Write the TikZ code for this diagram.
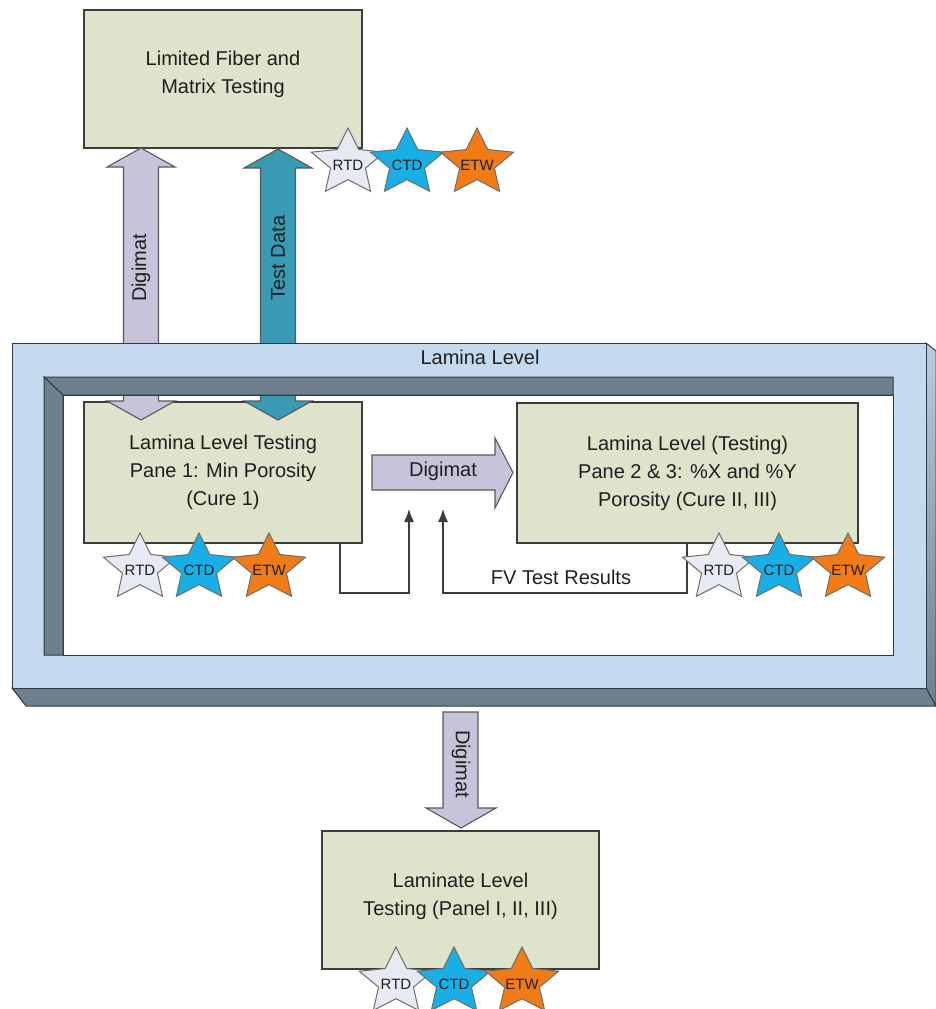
\documentclass[tikz,border=0pt]{standalone}
\usepackage{fontspec}
\setmainfont{Liberation Sans}
\usetikzlibrary{shapes.geometric,calc,arrows.meta}
\definecolor{boxfill}{HTML}{DEE3CB}
\definecolor{edge}{HTML}{3C3C3C}
\definecolor{lav}{HTML}{C8C2DB}
\definecolor{tealarrow}{HTML}{3A9AB4}
\definecolor{frameblue}{HTML}{C6DAEF}
\definecolor{slate}{HTML}{6E7F8D}
\definecolor{frameline}{HTML}{2F3B45}
\definecolor{rtdfill}{HTML}{E8EAF3}
\definecolor{ctdfill}{HTML}{18AEE6}
\definecolor{etwfill}{HTML}{F07B17}
\tikzset{
  box/.style={draw=edge, line width=1.3pt, fill=boxfill, inner sep=0pt},
  boxtext/.style={align=center, font=\fontsize{20}{28}\selectfont, text=black!88, inner sep=0pt},
  starnode/.style={star, star points=5, star point ratio=2.1, minimum size=70pt, xscale=1.1, inner sep=0pt, draw=edge!75, line width=1pt},
  startext/.style={font=\fontsize{15}{16}\selectfont, inner sep=0pt, text=black!88},
  blockarrow/.style={draw=edge!85, line width=1.1pt},
  conn/.style={draw=edge, line width=1.1pt, -{Latex[length=13pt,width=10pt]}},
  lbl/.style={font=\fontsize{20}{24}\selectfont, inner sep=0pt, text=black!88},
}
\begin{document}
\begin{tikzpicture}[x=1pt,y=-1pt]
\useasboundingbox (0,0) rectangle (936,1009);

% ---------- boxes ----------
\node[box, minimum width=278pt, minimum height=138pt] (fiber) at (223,79) {};
\node[boxtext] at ($(fiber.center)+(0,-5)$) {Limited Fiber and\\Matrix Testing};

\node[box, minimum width=278pt, minimum height=141pt] (lam1) at (223,472.5) {};
\node[boxtext] at (lam1.center) {Lamina Level Testing\\Pane 1: Min Porosity\\(Cure 1)};

\node[box, minimum width=341pt, minimum height=140pt] (lam2) at (687.5,473) {};
\node[boxtext] at (lam2.center) {Lamina Level (Testing)\\Pane 2 \& 3: \%X and \%Y\\Porosity (Cure II, III)};

\node[box, minimum width=277pt, minimum height=138pt] (laminate) at (460.5,900) {};
\node[boxtext] at ($(laminate.center)+(0,-4)$) {Laminate Level\\Testing (Panel I, II, III)};

% ---------- vertical double arrows (behind frame) ----------
\draw[blockarrow, fill=lav]
  (141,148) -- (175,167) -- (158.5,167) -- (158.5,401) -- (175,401) -- (141,420)
  -- (107,401) -- (123.5,401) -- (123.5,167) -- (107,167) -- cycle;
\node[lbl, rotate=90] (dig1) at (141,268) {Digimat};

\draw[blockarrow, fill=tealarrow]
  (278,149) -- (312,168) -- (295.5,168) -- (295.5,401) -- (312,401) -- (278,420)
  -- (244,401) -- (260.5,401) -- (260.5,168) -- (244,168) -- cycle;
\node[lbl, rotate=90] (td) at (278,258) {Test Data};

% ---------- frame ----------
\shade[top color=frameblue!85!slate, bottom color=slate, draw=frameline, line width=1pt]
  (926,343) -- (936,351) -- (936,706) -- (926,688) -- cycle;
\fill[slate, draw=frameline, line width=1pt]
  (12,688) -- (926,688) -- (936,706) -- (26,706) -- cycle;
\fill[frameblue, even odd rule, draw=frameline, line width=1pt]
  (12,343) rectangle (926,688) (63,395) rectangle (893,655);
\fill[slate, draw=frameline, line width=1pt]
  (44,377) -- (893,377) -- (893,395) -- (63,395) -- cycle;
\fill[slate, draw=frameline, line width=1pt]
  (44,377) -- (63,395) -- (63,655) -- (44,655) -- cycle;
\draw[frameline, line width=1pt] (63,395) rectangle (893,655);
\node[lbl] (lamlevel) at (480,357) {Lamina Level};

% ---------- horizontal Digimat arrow ----------
\draw[blockarrow, fill=lav]
  (372,455) -- (495,455) -- (495,438) -- (513,472.5) -- (495,508) -- (495,490) -- (372,490) -- cycle;
\node[lbl] (dig2) at (443,471) {Digimat};

% ---------- feedback connectors ----------
\coordinate (j1) at (340,593);
\coordinate (t1) at (409,509);
\draw[conn] (lam1.south -| j1) -- (j1) -| (t1);
\coordinate (j2) at (687,593);
\coordinate (t2) at (443,509);
\draw[conn] (lam2.south -| j2) -- (j2) -| (t2);
\node[lbl] (fv) at (561,577) {FV Test Results};

% ---------- bottom Digimat arrow ----------
\draw[blockarrow, fill=lav]
  (443,712) -- (478,712) -- (478,808) -- (496,808) -- (461,828) -- (426,808) -- (443,808) -- cycle;
\node[lbl, rotate=-90] (dig3) at (461,764) {Digimat};

% ---------- stars ----------
\node[starnode, fill=rtdfill] (s1a) at (348,163) {};
\node[starnode, fill=ctdfill] (s1b) at (407,163) {};
\node[starnode, fill=etwfill] (s1c) at (477,163) {};
\node[startext] at ($(s1a.center)+(0,2)$) {RTD};
\node[startext] at ($(s1b.center)+(0,2)$) {CTD};
\node[startext] at ($(s1c.center)+(0,2)$) {ETW};

\node[starnode, fill=rtdfill] (s2a) at (140,568) {};
\node[starnode, fill=ctdfill] (s2b) at (199,568) {};
\node[starnode, fill=etwfill] (s2c) at (269,568) {};
\node[startext] at ($(s2a.center)+(0,2)$) {RTD};
\node[startext] at ($(s2b.center)+(0,2)$) {CTD};
\node[startext] at ($(s2c.center)+(0,2)$) {ETW};

\node[starnode, fill=rtdfill] (s3a) at (719,568) {};
\node[starnode, fill=ctdfill] (s3b) at (779,568) {};
\node[starnode, fill=etwfill] (s3c) at (848,568) {};
\node[startext] at ($(s3a.center)+(0,2)$) {RTD};
\node[startext] at ($(s3b.center)+(0,2)$) {CTD};
\node[startext] at ($(s3c.center)+(0,2)$) {ETW};

\node[starnode, fill=rtdfill] (s4a) at (396,982) {};
\node[starnode, fill=ctdfill] (s4b) at (454,982) {};
\node[starnode, fill=etwfill] (s4c) at (522,982) {};
\node[startext] at ($(s4a.center)+(0,2)$) {RTD};
\node[startext] at ($(s4b.center)+(0,2)$) {CTD};
\node[startext] at ($(s4c.center)+(0,2)$) {ETW};
\end{tikzpicture}
\end{document}
